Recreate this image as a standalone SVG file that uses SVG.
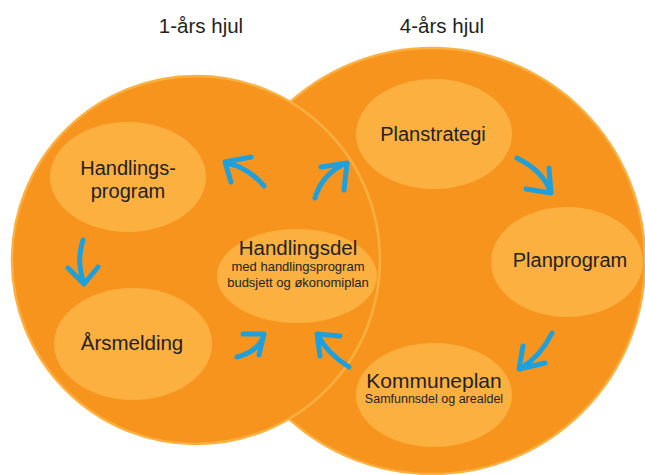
<svg xmlns="http://www.w3.org/2000/svg" width="645" height="475" viewBox="0 0 645 475">
<style>
.wheel{fill:#F7941E;stroke:#FBB040;stroke-width:2.5}
.node{fill:#FBB040}
.t{font-family:"Liberation Sans",Arial,sans-serif;fill:#231F20;text-anchor:middle}
.arrow{fill:none;stroke:#1FA0DB;stroke-width:5;stroke-linecap:round;stroke-linejoin:round}
</style>
<rect width="645" height="475" fill="#FFFFFF"/>
<g id="titles">
<text class="t" x="201" y="33" font-size="20.5">1-års hjul</text>
<text class="t" x="442" y="33" font-size="20.5">4-års hjul</text>
</g>
<g id="wheel-4">
<circle class="wheel" cx="432" cy="261" r="213"/>
</g>
<g id="wheel-1">
<circle class="wheel" cx="196" cy="260" r="184"/>
</g>
<g id="handlingsprogram">
<ellipse class="node" cx="128" cy="177" rx="78" ry="55"/>
<text class="t" x="128" y="175" font-size="20">Handlings-</text>
<text class="t" x="128" y="198" font-size="20">program</text>
</g>
<g id="arsmelding">
<ellipse class="node" cx="133" cy="344" rx="79" ry="56"/>
<text class="t" x="132" y="350" font-size="20.5">Årsmelding</text>
</g>
<g id="handlingsdel">
<ellipse class="node" cx="297" cy="276" rx="80" ry="47"/>
<text class="t" x="298" y="255" font-size="20.5">Handlingsdel</text>
<text class="t" x="298" y="271" font-size="13">med handlingsprogram</text>
<text class="t" x="298" y="287" font-size="13">budsjett og økonomiplan</text>
</g>
<g id="planstrategi">
<ellipse class="node" cx="434" cy="134" rx="78" ry="55"/>
<text class="t" x="433" y="141" font-size="20">Planstrategi</text>
</g>
<g id="planprogram">
<ellipse class="node" cx="567" cy="262" rx="76" ry="55"/>
<text class="t" x="570" y="267" font-size="20">Planprogram</text>
</g>
<g id="kommuneplan">
<ellipse class="node" cx="434" cy="395" rx="78" ry="52"/>
<text class="t" x="434" y="388" font-size="21">Kommuneplan</text>
<text class="t" x="434" y="403" font-size="12.5">Samfunnsdel og arealdel</text>
</g>
<g id="connectors">
<path class="arrow" d="M 83 240 Q 76 262 84 283 M 68 268 L 84 284 L 98 267"/>
<path class="arrow" d="M 237 357 Q 258 352 264 335 M 243 334 L 264 334 L 259 355"/>
<path class="arrow" d="M 349 367 Q 326 352 318 335 M 340 336 L 317 334 L 320 356"/>
<path class="arrow" d="M 264 186 Q 248 167 226 163 M 251 157 L 225 162 L 231 182"/>
<path class="arrow" d="M 315 198 Q 322 174 346 163 M 321 167 L 347 163 L 344 190"/>
<path class="arrow" d="M 517 158 Q 543 171 550 191 M 526 189 L 551 193 L 549 168"/>
<path class="arrow" d="M 552 333 Q 541 356 520 369 M 523 346 L 519 369 L 545 363"/>
</g>
</svg>
